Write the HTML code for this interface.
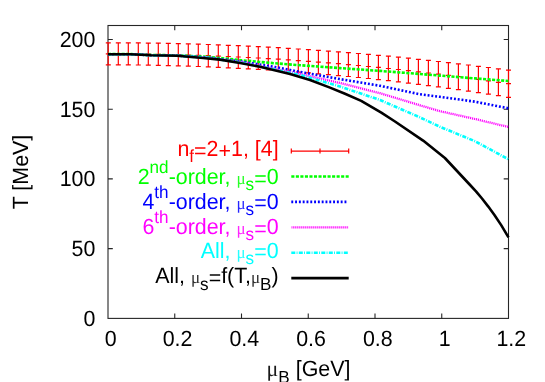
<!DOCTYPE html>
<html><head><meta charset="utf-8"><title>plot</title>
<style>
html,body{margin:0;padding:0;background:#fff;}
body{width:545px;height:382px;overflow:hidden;}
svg{display:block;will-change:transform;}
text{font-family:"Liberation Sans",sans-serif;font-size:22.0px;text-rendering:geometricPrecision;}
</style></head><body>
<svg width="545" height="382" viewBox="0 0 545 382">
<rect width="545" height="382" fill="#fff"/>
<clipPath id="c"><rect x="107.0" y="25.5" width="402.5" height="292.9"/></clipPath>
<rect x="108.0" y="25.5" width="400.5" height="292.9" fill="none" stroke="#262626" stroke-width="1.1"/>
<path d="M174.75,318.4v-4.8M174.75,25.5v4.8M241.50,318.4v-4.8M241.50,25.5v4.8M308.25,318.4v-4.8M308.25,25.5v4.8M375.00,318.4v-4.8M375.00,25.5v4.8M441.75,318.4v-4.8M441.75,25.5v4.8M108.0,248.66h4.8M508.5,248.66h-4.8M108.0,178.92h4.8M508.5,178.92h-4.8M108.0,109.19h4.8M508.5,109.19h-4.8M108.0,39.45h4.8M508.5,39.45h-4.8" stroke="#262626" stroke-width="1.1" fill="none"/>
<g fill="none" stroke-linejoin="round">
<path d="M108.2,42.8V64.8M105.8,42.8h5M105.8,64.8h5M105.8,53.8h5M118.3,42.8V64.9M115.8,42.8h5M115.8,64.9h5M115.8,53.8h5M128.3,42.9V64.9M125.8,42.9h5M125.8,64.9h5M125.8,53.9h5M138.3,42.9V65.0M135.8,42.9h5M135.8,65.0h5M135.8,54.0h5M148.3,43.1V65.2M145.8,43.1h5M145.8,65.2h5M145.8,54.1h5M158.3,43.2V65.3M155.8,43.2h5M155.8,65.3h5M155.8,54.3h5M168.3,43.4V65.6M165.8,43.4h5M165.8,65.6h5M165.8,54.5h5M178.3,43.6V65.8M175.8,43.6h5M175.8,65.8h5M175.8,54.7h5M188.3,43.9V66.1M185.8,43.9h5M185.8,66.1h5M185.8,55.0h5M198.3,44.2V66.5M195.8,44.2h5M195.8,66.5h5M195.8,55.3h5M208.3,44.5V66.9M205.8,44.5h5M205.8,66.9h5M205.8,55.7h5M218.3,44.9V67.3M215.8,44.9h5M215.8,67.3h5M215.8,56.1h5M228.3,45.3V67.8M225.8,45.3h5M225.8,67.8h5M225.8,56.5h5M238.3,45.7V68.3M235.8,45.7h5M235.8,68.3h5M235.8,57.0h5M248.3,46.2V68.8M245.8,46.2h5M245.8,68.8h5M245.8,57.5h5M258.3,46.7V69.4M255.8,46.7h5M255.8,69.4h5M255.8,58.0h5M268.3,47.2V70.0M265.8,47.2h5M265.8,70.0h5M265.8,58.6h5M278.3,47.7V70.7M275.8,47.7h5M275.8,70.7h5M275.8,59.2h5M288.3,48.3V71.4M285.8,48.3h5M285.8,71.4h5M285.8,59.9h5M298.3,49.0V72.2M295.8,49.0h5M295.8,72.2h5M295.8,60.6h5M308.4,49.6V72.9M305.9,49.6h5M305.9,72.9h5M305.9,61.3h5M318.4,50.4V73.8M315.9,50.4h5M315.9,73.8h5M315.9,62.1h5M328.4,51.1V74.6M325.9,51.1h5M325.9,74.6h5M325.9,62.9h5M338.4,51.9V75.6M335.9,51.9h5M335.9,75.6h5M335.9,63.7h5M348.4,52.7V76.5M345.9,52.7h5M345.9,76.5h5M345.9,64.6h5M358.4,53.5V77.5M355.9,53.5h5M355.9,77.5h5M355.9,65.5h5M368.4,54.4V78.5M365.9,54.4h5M365.9,78.5h5M365.9,66.5h5M378.4,55.3V79.6M375.9,55.3h5M375.9,79.6h5M375.9,67.4h5M388.4,56.2V80.7M385.9,56.2h5M385.9,80.7h5M385.9,68.5h5M398.4,57.2V81.9M395.9,57.2h5M395.9,81.9h5M395.9,69.5h5M408.4,58.2V83.1M405.9,58.2h5M405.9,83.1h5M405.9,70.6h5M418.4,59.3V84.3M415.9,59.3h5M415.9,84.3h5M415.9,71.8h5M428.4,60.3V85.6M425.9,60.3h5M425.9,85.6h5M425.9,73.0h5M438.4,61.5V86.9M435.9,61.5h5M435.9,86.9h5M435.9,74.2h5M448.4,62.6V88.3M445.9,62.6h5M445.9,88.3h5M445.9,75.4h5M458.4,63.8V89.7M455.9,63.8h5M455.9,89.7h5M455.9,76.7h5M468.4,65.0V91.1M465.9,65.0h5M465.9,91.1h5M465.9,78.1h5M478.4,66.3V92.6M475.9,66.3h5M475.9,92.6h5M475.9,79.4h5M488.4,67.5V94.1M485.9,67.5h5M485.9,94.1h5M485.9,80.8h5M498.4,68.9V95.7M495.9,68.9h5M495.9,95.7h5M495.9,82.3h5M508.5,70.2V97.3M506.0,70.2h5M506.0,97.3h5M506.0,83.7h5" stroke="#ff0000" stroke-width="1.2"/>
<path d="M108.0,54.1 L131.0,54.1 L151.0,55.0 L177.0,55.3 L208.0,56.9 L220.0,58.0 L241.0,60.2 L275.0,63.3 L300.0,65.2 L340.0,68.1 L380.0,70.9 L420.0,74.0 L440.0,75.6 L475.0,78.4 L508.5,81.0" stroke="#00ff00" stroke-width="2.6" stroke-dasharray="3.1 1.43"/>
<path d="M108.0,54.2 L131.0,54.2 L151.0,55.2 L177.0,55.6 L208.0,57.6 L241.0,61.5 L275.0,67.0 L300.0,71.9 L340.0,79.1 L380.0,85.8 L420.0,94.3 L440.0,96.8 L475.0,101.7 L508.5,108.3" stroke="#0000ff" stroke-width="2.6" stroke-dasharray="1.9 1.9"/>
<path d="M108.0,54.2 L131.0,54.2 L151.0,55.2 L177.0,55.6 L208.0,57.7 L241.0,62.0 L275.0,68.9 L300.0,73.9 L340.0,83.0 L380.0,93.2 L420.0,105.3 L440.0,111.2 L475.0,119.0 L508.5,127.0" stroke="#ff00ff" stroke-width="2.3" stroke-dasharray="1.15 0.85" stroke-dashoffset="0.7"/>
<path d="M108.0,54.2 L131.0,54.2 L151.0,55.3 L177.0,55.7 L208.0,57.8 L241.0,62.6 L275.0,69.5 L300.0,74.9 L340.0,86.5 L380.0,100.0 L420.0,117.4 L440.0,126.8 L475.0,141.2 L508.5,159.3" stroke="#00ffff" stroke-width="2.6" stroke-dasharray="4 1.3 0.9 1.3"/>
<path d="M108.0,54.2 L131.0,54.2 L151.0,55.3 L177.0,55.7 L203.0,58.0 L220.0,59.6 L240.0,63.0 L260.0,66.7 L290.0,73.9 L310.0,80.0 L330.0,87.6 L345.0,93.8 L361.2,100.9 L381.3,112.7 L395.0,121.5 L423.1,140.6 L444.9,158.0 L470.1,185.0 L476.0,191.3 L482.0,198.5 L488.3,206.6 L494.6,215.2 L501.2,225.1 L508.5,237.3" stroke="#000" stroke-width="2.6"/>
</g>
<text transform="translate(95.4 325.7) scale(0.973 1)" text-anchor="end" fill="#000" >0</text><text transform="translate(95.4 256.0) scale(0.973 1)" text-anchor="end" fill="#000" >50</text><text transform="translate(95.4 186.2) scale(0.973 1)" text-anchor="end" fill="#000" >100</text><text transform="translate(95.4 116.5) scale(0.973 1)" text-anchor="end" fill="#000" >150</text><text transform="translate(95.4 46.7) scale(0.973 1)" text-anchor="end" fill="#000" >200</text><text transform="translate(110.8 346.3) scale(0.973 1)" text-anchor="middle" fill="#000" >0</text><text transform="translate(177.6 346.3) scale(0.973 1)" text-anchor="middle" fill="#000" >0.2</text><text transform="translate(244.3 346.3) scale(0.973 1)" text-anchor="middle" fill="#000" >0.4</text><text transform="translate(311.1 346.3) scale(0.973 1)" text-anchor="middle" fill="#000" >0.6</text><text transform="translate(377.8 346.3) scale(0.973 1)" text-anchor="middle" fill="#000" >0.8</text><text transform="translate(444.6 346.3) scale(0.973 1)" text-anchor="middle" fill="#000" >1</text><text transform="translate(511.3 346.3) scale(0.973 1)" text-anchor="middle" fill="#000" >1.2</text>
<text transform="translate(278.6 155.8) scale(0.973 1)" text-anchor="end" fill="#ff0000" ><tspan>n</tspan><tspan font-size="17.6" dy="6.5">f</tspan><tspan dy="-4.7">=</tspan><tspan dy="-1.8">2</tspan><tspan dy="1.8">+</tspan><tspan dy="-1.8">1, [4]</tspan></text><text transform="translate(278.6 183.9) scale(0.973 1)" text-anchor="end" fill="#00ff00" ><tspan>2</tspan><tspan font-size="17.6" dy="-11.0">nd</tspan><tspan dy="11.0">-order, </tspan><tspan font-family="Liberation Serif" font-size="17.5" fill-opacity="0.85">μ</tspan><tspan font-size="17.6" dy="6.5">s</tspan><tspan dy="-4.7">=</tspan><tspan dy="-1.8">0</tspan></text><text transform="translate(278.6 208.6) scale(0.973 1)" text-anchor="end" fill="#0000ff" ><tspan>4</tspan><tspan font-size="17.6" dy="-11.0">th</tspan><tspan dy="11.0">-order, </tspan><tspan font-family="Liberation Serif" font-size="17.5" fill-opacity="0.85">μ</tspan><tspan font-size="17.6" dy="6.5">s</tspan><tspan dy="-4.7">=</tspan><tspan dy="-1.8">0</tspan></text><text transform="translate(278.6 233.9) scale(0.973 1)" text-anchor="end" fill="#ff00ff" ><tspan>6</tspan><tspan font-size="17.6" dy="-11.0">th</tspan><tspan dy="11.0">-order, </tspan><tspan font-family="Liberation Serif" font-size="17.5" fill-opacity="0.85">μ</tspan><tspan font-size="17.6" dy="6.5">s</tspan><tspan dy="-4.7">=</tspan><tspan dy="-1.8">0</tspan></text><text transform="translate(278.6 257.5) scale(0.973 1)" text-anchor="end" fill="#00ffff" ><tspan>All, </tspan><tspan font-family="Liberation Serif" font-size="17.5" fill-opacity="0.85">μ</tspan><tspan font-size="17.6" dy="6.5">s</tspan><tspan dy="-4.7">=</tspan><tspan dy="-1.8">0</tspan></text><text transform="translate(278.6 283.3) scale(0.973 1)" text-anchor="end" fill="#000000" ><tspan>All, </tspan><tspan font-family="Liberation Serif" font-size="17.5" fill-opacity="0.85">μ</tspan><tspan font-size="17.6" dy="6.5">s</tspan><tspan dy="-4.7">=</tspan><tspan dy="-1.8">f(T,</tspan><tspan font-family="Liberation Serif" font-size="17.5" fill-opacity="0.85">μ</tspan><tspan font-size="17.6" dy="6.5">B</tspan><tspan dy="-6.5">)</tspan></text>

<path d="M291.3,151.1H348.7M291.3,148.6v5M348.7,148.6v5M320,148.6v5" stroke="#ff0000" stroke-width="1.2" fill="none"/>
<path d="M291.3,176.5H348.7" stroke="#00ff00" stroke-width="2.6" stroke-dasharray="3.1 1.43" fill="none"/>
<path d="M291.3,201.9H346.6" stroke="#0000ff" stroke-width="2.6" stroke-dasharray="1.9 1.9" fill="none"/>
<path d="M291.3,227.3H348.7" stroke="#ff00ff" stroke-width="2.3" stroke-dasharray="1.15 0.85" stroke-dashoffset="0.7" fill="none"/>
<path d="M291.3,252.7H348.7" stroke="#00ffff" stroke-width="2.6" stroke-dasharray="4 1.3 0.9 1.3" fill="none"/>
<path d="M291.3,278.1H348.7" stroke="#000" stroke-width="2.6" fill="none"/>

<text transform="translate(28,172) rotate(-90) scale(0.973 1)" text-anchor="middle">T [MeV]</text>
<text transform="translate(308.5 376) scale(0.973 1)" text-anchor="middle"><tspan font-family="Liberation Serif" font-size="22.5" fill-opacity="0.9">μ</tspan><tspan font-size="17.6" dy="6.5">B</tspan><tspan dy="-6.5"> [GeV]</tspan></text>
</svg>
</body></html>
